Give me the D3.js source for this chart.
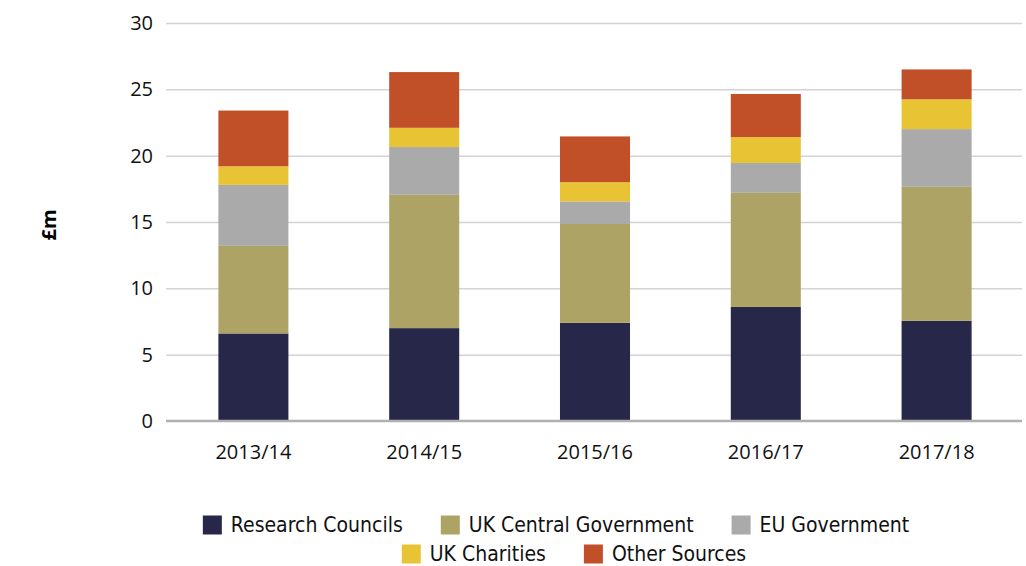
<!DOCTYPE html>
<html>
<head>
    <script src="https://d3js.org/d3.v7.min.js"></script>
    <style>
        body { margin: 0; background: #fff; }
        .tick text { font-family: "Open Sans", "Noto Sans", sans-serif; font-size: 20px; fill: #111; }
        .legend text { font-family: "Liberation Sans Narrow", "DejaVu Sans Condensed", "DejaVu Sans", sans-serif; font-stretch: condensed; font-size: 21px; fill: #111; }
    </style>
</head>
<body>
<div id="chart"></div>
<script>
    var years = ["2013/14", "2014/15", "2015/16", "2016/17", "2017/18"];
    var sources = ["Research Councils", "UK Central Government", "EU Government", "UK Charities", "Other Sources"];
    var colors = ["#262749", "#ada365", "#aaaaaa", "#e8c434", "#c14f28"];

    var researchCouncils = [6.6, 7.0, 7.4, 8.6, 7.55];
    var ukCentralGov     = [6.6, 10.05, 7.45, 8.6, 10.1];
    var euGov            = [4.6, 3.6, 1.7, 2.25, 4.35];
    var ukCharities      = [1.4, 1.45, 1.45, 1.95, 2.25];
    var otherSources     = [4.2, 4.2, 3.45, 3.25, 2.25];
    var yTicks = [0, 5, 10, 15, 20, 25, 30];

    const width = 1026, height = 566;
    const margin = {top: 23, right: 4, bottom: 145, left: 166};

    var svg = d3.select("#chart").append("svg")
        .attr("width", width)
        .attr("height", height);

    var series = [researchCouncils, ukCentralGov, euGov, ukCharities, otherSources];
    var table = years.map(function(y, i) {
        var row = {year: y};
        sources.forEach(function(s, j) { row[s] = series[j][i]; });
        return row;
    });
    var stacked = d3.stack().keys(sources)(table);

    var xScale = d3.scaleBand().domain(years)
        .range([margin.left + 2, width - margin.right])
        .paddingInner(0.59).paddingOuter(0.295);
    var yScale = d3.scaleLinear().domain([0, 30])
        .range([height - margin.bottom, margin.top]);

    // gridlines
    var grid = svg.append("g")
        .attr("transform", "translate(" + margin.left + ",0)")
        .call(d3.axisLeft(yScale).tickValues(yTicks).tickSize(-(width - margin.right - margin.left)).tickPadding(13));
    grid.select(".domain").remove();
    grid.selectAll(".tick line").attr("stroke", "#d3d3d3").attr("stroke-width", 1.5)
        .filter(function(d) { return d === 0; }).remove();

    svg.append("g").selectAll("g")
        .data(stacked)
        .enter().append("g")
        .attr("fill", function(d, i) { return colors[i]; })
        .selectAll("rect")
        .data(function(d) { return d; })
        .enter().append("rect")
        .attr("x", function(d) { return xScale(d.data.year); })
        .attr("y", function(d) { return yScale(d[1]); })
        .attr("width", xScale.bandwidth())
        .attr("height", function(d) { return yScale(d[0]) - yScale(d[1]); });

    // baseline
    svg.append("line")
        .attr("x1", margin.left).attr("x2", width - margin.right)
        .attr("y1", yScale(0)).attr("y2", yScale(0))
        .attr("stroke", "#b0b0b0").attr("stroke-width", 2.5);

    var xAxis = svg.append("g")
        .attr("transform", "translate(0," + yScale(0) + ")")
        .call(d3.axisBottom(xScale).tickSize(0).tickPadding(24));
    xAxis.select(".domain").remove();

    svg.append("text")
        .attr("transform", "translate(56," + (yScale(15) + 3) + ") rotate(-90)")
        .style("text-anchor", "middle")
        .style("font-family", "'Open Sans', sans-serif")
        .style("font-weight", "bold")
        .style("font-size", "20px")
        .text("£m");

    // legend, two centred rows
    var rows = [[0, 1, 2], [3, 4]];
    var rowCenter = [556, 574];
    var rowY = [525, 554];
    var box = 19, gap = 9, spacing = 38;
    var legend = svg.append("g").attr("class", "legend");
    rows.forEach(function(r, ri) {
        var g = legend.append("g");
        var x = 0;
        r.forEach(function(k) {
            var item = g.append("g").attr("transform", "translate(" + x + ",0)");
            item.append("rect").attr("x", 0).attr("y", rowY[ri] - box / 2)
                .attr("width", box).attr("height", box).attr("fill", colors[k]);
            var t = item.append("text").attr("x", box + gap).attr("y", rowY[ri])
                .attr("dy", "0.35em").text(sources[k]);
            x += box + gap + t.node().getComputedTextLength() + spacing;
        });
        var total = x - spacing;
        g.attr("transform", "translate(" + (rowCenter[ri] - total / 2) + ",0)");
    });
</script>
</body>
</html>
